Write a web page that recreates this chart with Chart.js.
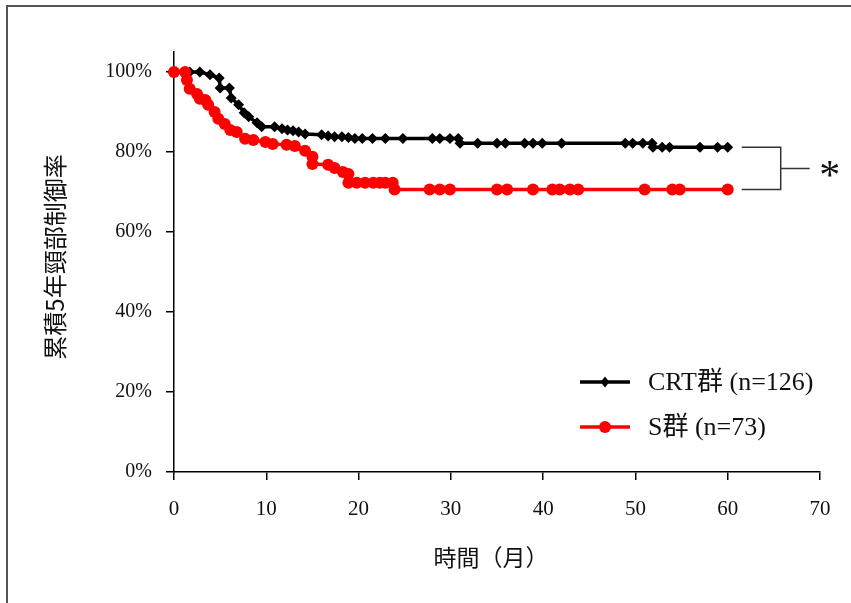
<!DOCTYPE html>
<html>
<head>
<meta charset="utf-8">
<script src="https://cdn.jsdelivr.net/npm/chart.js@4/dist/chart.umd.min.js"></script>
<style>
html,body{margin:0;padding:0;background:#fff;}
canvas{display:block;}
</style>
</head>
<body>
<canvas id="c" width="851" height="603"></canvas>
<script>
// ---- data (months, cumulative 5-year local control rate %) ----
const crtMonths = [0,1.7,2.8,3.9,4.9,5.0,6.0,6.2,7.0,7.6,8.1,9.0,9.5,10.9,11.7,12.3,12.9,13.5,14.2,16.0,16.7,17.4,18.2,18.9,19.6,20.4,21.5,22.9,24.8,28.0,28.8,29.9,30.8,31.0,32.9,35.0,35.9,38.0,38.9,39.9,42.0,48.9,49.7,50.8,51.8,51.9,52.9,53.7,57.0,58.9,60.0];
const crtRates  = [100,100,100,99.3,98.5,96,96,93.5,91.8,89.8,88.8,87.3,86.3,86.3,85.8,85.5,85.3,85,84.5,84.3,84,83.8,83.8,83.6,83.4,83.4,83.4,83.4,83.4,83.4,83.4,83.4,83.4,82.2,82.2,82.2,82.2,82.2,82.2,82.2,82.2,82.2,82.2,82.2,82.2,81.2,81.2,81.2,81.2,81.2,81.2];
const sMonths = [0,1.2,1.4,1.7,2.5,2.8,3.4,3.7,4.4,4.8,5.5,6.1,6.8,7.7,8.6,9.9,10.7,12.2,13.1,14.2,15.0,15.0,16.7,17.4,18.3,18.9,18.9,19.8,20.7,21.6,22.3,22.9,23.7,23.9,27.7,28.8,29.9,35.0,36.1,38.9,41.0,41.8,42.9,43.8,51.0,54.0,54.8,60.0];
const sRates  = [100,100,98,95.8,94.5,93.3,93,91.8,90,88.3,87,85.5,85,83.3,83,82.5,82,81.8,81.5,80.3,78.8,77,76.8,76,75,74.5,72.3,72.3,72.3,72.3,72.3,72.3,72.3,70.6,70.6,70.6,70.6,70.6,70.6,70.6,70.6,70.6,70.6,70.6,70.6,70.6,70.6,70.6];
const seriesNames = ['CRT群 (n=126)', 'S群 (n=73)'];
const xTicks = [0,10,20,30,40,50,60,70];
const yTicks = [0,20,40,60,80,100];
const xTitle = '時間（月）';
const yTitle = '累積5年頸部制御率';
const sigMark = '*';

const toXY = (xs, ys) => xs.map((x, i) => ({x: x, y: ys[i]}));
const SERIF = "'Liberation Serif', 'Noto Sans CJK JP', serif";

const overlay = {
  id: 'overlay',
  beforeDraw(chart) {
    const ctx = chart.ctx;
    ctx.save();
    ctx.fillStyle = '#fff';
    ctx.fillRect(0, 0, chart.width, chart.height);
    ctx.strokeStyle = '#555';
    ctx.lineWidth = 2;
    ctx.beginPath();
    ctx.moveTo(7, 603); ctx.lineTo(7, 6); ctx.lineTo(851, 6);
    ctx.stroke();
    ctx.restore();
  },
  afterDraw(chart) {
    const ctx = chart.ctx;
    const xs = chart.scales.x, ys = chart.scales.y;
    const ca = chart.chartArea;
    ctx.save();
    // axis titles
    ctx.fillStyle = '#111';
    ctx.font = "23px 'Noto Sans CJK JP'";
    ctx.textAlign = 'center';
    ctx.textBaseline = 'middle';
    ctx.fillText(xTitle, (ca.left + ca.right) / 2 - 6, 557);
    ctx.save();
    ctx.translate(55, 257);
    ctx.rotate(-Math.PI / 2);
    ctx.font = "24px 'Noto Sans CJK JP'";
    ctx.fillText(yTitle, 0, 0);
    ctx.restore();

    // legend
    const ds = chart.data.datasets;
    const legendOrder = [0, 1];
    const ly = [382, 427];
    legendOrder.forEach((di, k) => {
      const d = ds[di];
      const y = ly[k];
      ctx.strokeStyle = d.borderColor;
      ctx.lineWidth = d.borderWidth;
      ctx.beginPath();
      ctx.moveTo(580, y); ctx.lineTo(630, y);
      ctx.stroke();
      ctx.fillStyle = d.backgroundColor;
      ctx.beginPath();
      if (d.pointStyle === 'rectRot') {
        const r = d.pointRadius;
        ctx.moveTo(605, y - r); ctx.lineTo(605 + r * 0.8, y); ctx.lineTo(605, y + r); ctx.lineTo(605 - r * 0.8, y);
        ctx.closePath();
      } else {
        ctx.arc(605, y, d.pointRadius, 0, Math.PI * 2);
      }
      ctx.fill();
      ctx.fillStyle = '#111';
      ctx.font = '26px ' + SERIF;
      ctx.textAlign = 'left';
      ctx.textBaseline = 'middle';
      ctx.fillText(d.label, 648, y + 1);
    });

    // significance bracket
    const xEnd = xs.getPixelForValue(60);
    const yA = ys.getPixelForValue(crtRates[crtRates.length - 1]);
    const yB = ys.getPixelForValue(sRates[sRates.length - 1]);
    const x0 = xEnd + 14, x1 = xEnd + 53;
    ctx.strokeStyle = '#333';
    ctx.lineWidth = 1.5;
    ctx.beginPath();
    ctx.moveTo(x0, yA); ctx.lineTo(x1, yA); ctx.lineTo(x1, yB); ctx.lineTo(x0, yB);
    ctx.moveTo(x1, (yA + yB) / 2); ctx.lineTo(x1 + 29, (yA + yB) / 2);
    ctx.stroke();
    ctx.fillStyle = '#111';
    ctx.font = '42px ' + SERIF;
    ctx.textAlign = 'center';
    ctx.textBaseline = 'middle';
    ctx.fillText(sigMark, x1 + 49, (yA + yB) / 2 + 10);
    ctx.restore();
  }
};

new Chart(document.getElementById('c'), {
  type: 'scatter',
  data: {
    datasets: [
      {
        label: seriesNames[0],
        data: toXY(crtMonths, crtRates),
        showLine: true,
        borderColor: '#000',
        backgroundColor: '#000',
        borderWidth: 3.5,
        borderJoinStyle: 'round',
        pointStyle: 'rectRot',
        pointRadius: 5.5,
        pointHoverRadius: 5.5,
        pointBorderWidth: 0,
        order: 1,
        clip: false
      },
      {
        label: seriesNames[1],
        data: toXY(sMonths, sRates),
        showLine: true,
        borderColor: '#ff0000',
        backgroundColor: '#ff0000',
        borderWidth: 3.5,
        borderJoinStyle: 'round',
        pointStyle: 'circle',
        pointRadius: 6,
        pointHoverRadius: 6,
        pointBorderWidth: 0,
        order: 0,
        clip: false
      }
    ]
  },
  options: {
    responsive: false,
    animation: false,
    layout: { padding: { left: 0, top: 52, right: 31, bottom: 0 } },
    plugins: { legend: { display: false }, tooltip: { enabled: false } },
    scales: {
      x: {
        type: 'linear',
        min: 0, max: 70,
        afterBuildTicks: s => { s.ticks = xTicks.map(v => ({value: v})); },
        afterFit: s => { s.height = 131; },
        grid: { drawOnChartArea: false, drawTicks: true, tickLength: 8, color: '#000', lineWidth: 1.5 },
        border: { color: '#000', width: 1.5 },
        ticks: { color: '#111', font: { family: SERIF, size: 21 }, padding: 17, maxRotation: 0, autoSkip: false }
      },
      y: {
        type: 'linear',
        min: 0, max: 105,
        afterBuildTicks: s => { s.ticks = yTicks.map(v => ({value: v})); },
        afterFit: s => { s.width = 174; },
        grid: { drawOnChartArea: false, drawTicks: true, tickLength: 8, color: '#000', lineWidth: 1.5 },
        border: { color: '#000', width: 1.5 },
        ticks: { color: '#111', font: { family: SERIF, size: 20 }, padding: 14, callback: v => v + '%' }
      }
    }
  },
  plugins: [overlay]
});
</script>
</body>
</html>
